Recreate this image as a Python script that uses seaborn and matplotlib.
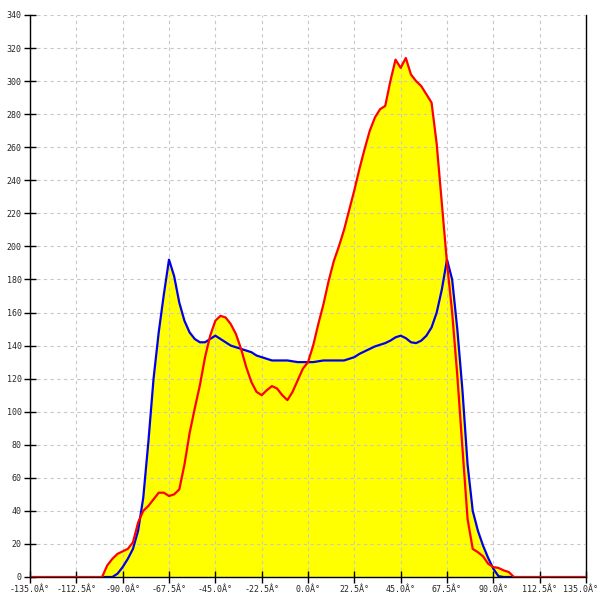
import numpy as np
import pandas as pd
import matplotlib
matplotlib.use("Agg")
import matplotlib.pyplot as plt
import matplotlib.transforms as mtransforms
import seaborn as sns

# angle grid (deg) and the two histogram curves
angles = [-135,
          -100, -97.5, -95, -92.5, -90, -87.5, -85, -82.5, -80, -77.5,
          -75, -72.5, -70, -67.5, -65, -62.5, -60, -57.5, -55, -52.5,
          -50, -47.5, -45, -42.5, -40, -37.5, -35, -32.5, -30, -27.5,
          -25, -22.5, -20, -17.5, -15, -12.5, -10, -7.5, -5, -2.5,
          0, 2.5, 5, 7.5, 10, 12.5, 15, 17.5, 20, 22.5,
          25, 27.5, 30, 32.5, 35, 37.5, 40, 42.5, 45, 47.5,
          50, 52.5, 55, 57.5, 60, 62.5, 65, 67.5, 70, 72.5,
          75, 77.5, 80, 82.5, 85, 87.5, 90, 92.5, 95, 97.5,
          100,
          135]

blue = [np.nan,
        0, 0, 0, 2, 6, 11, 17, 28, 48, 82,
        120, 148, 171, 192, 182, 166, 155, 148, 144, 142,
        142, 144, 146, 144, 142, 140, 139, 138, 137, 136,
        134, 133, 132, 131, 131, 131, 131, 130.5, 130, 130,
        130, 130, 130.5, 131, 131, 131, 131, 131, 132, 133,
        135, 136.5, 138, 139.5, 140.5, 141.5, 143, 145, 146, 144.5,
        142, 141.5, 143, 146, 151, 160, 174, 192, 180, 150,
        113, 68, 40, 28, 19, 11.5, 5, 0.5, 0, 0,
        0,
        np.nan]

red = [0,
       0, 7, 11, 14, 15.5, 17, 21, 33, 40, 43,
       47, 51, 51, 49, 50, 53, 68, 87, 102, 116,
       133, 146, 155, 158, 157, 153, 147, 138, 127, 118,
       112, 110, 113, 115.5, 114, 110, 107, 112, 119, 126,
       130, 140, 153, 165, 179, 191, 200, 210, 222, 234,
       247, 259, 270, 278, 283, 285, 300, 313, 308, 314,
       304, 300, 297, 292, 287, 262, 226, 190, 160, 122,
       78, 35, 17, 15, 12.5, 8, 6, 5.5, 4, 3,
       0,
       0]

x_ticks = [-135, -112.5, -90, -67.5, -45, -22.5, 0, 22.5, 45, 67.5, 90, 112.5, 135]
y_ticks = list(range(0, 341, 20))

df = pd.DataFrame({"angle": angles, "blue": blue, "red": red})
df_blue = df.dropna(subset=["blue"])

sns.set_style("white")
plt.rcParams["font.family"] = ["DejaVu Sans Mono", "DejaVu Sans"]

fig = plt.figure(figsize=(6, 6), dpi=100)
ax = fig.add_axes([30 / 600, 23 / 600, 556 / 600, 562 / 600])

# filled areas under both curves
ax.fill_between(df_blue["angle"], 0, df_blue["blue"], color="#ffff00", lw=0, zorder=1)
ax.fill_between(df["angle"], 0, df["red"], color="#ffff00", lw=0, zorder=1)

sns.lineplot(data=df_blue, x="angle", y="blue", color="#0000ee", lw=1.6, ax=ax, zorder=3)
sns.lineplot(data=df, x="angle", y="red", color="#ff0000", lw=1.6, ax=ax, zorder=4)

ax.set_xlim(-135, 135)
ax.set_ylim(0, 340)
ax.set_xticks(x_ticks)
ax.set_xticklabels([f"{v:.1f}Â°" for v in x_ticks])
ax.set_yticks(y_ticks)
ax.set_yticklabels([str(v) for v in y_ticks])
ax.set_xlabel("")
ax.set_ylabel("")

ax.grid(True, color="#c8c8c8", linestyle=(0, (3, 3)), lw=0.8, zorder=2)
ax.set_axisbelow(False)
for gl in ax.get_xgridlines() + ax.get_ygridlines():
    gl.set_zorder(2)

ax.tick_params(direction="inout", length=8, width=1, color="black",
               labelsize=6, pad=2, left=True, bottom=True)
for side in ["left", "bottom", "right"]:
    ax.spines[side].set_visible(True)
    ax.spines[side].set_color("black")
    ax.spines[side].set_linewidth(1)
ax.spines["top"].set_visible(False)
ax.spines["left"].set_zorder(5)
ax.spines["bottom"].set_zorder(3)

# keep the last x label inside the canvas
last = ax.get_xticklabels()[-1]
last.set_transform(last.get_transform() +
                   mtransforms.ScaledTranslation(-6 / 100, 0, fig.dpi_scale_trans))

fig.savefig("out.png", dpi=100)
